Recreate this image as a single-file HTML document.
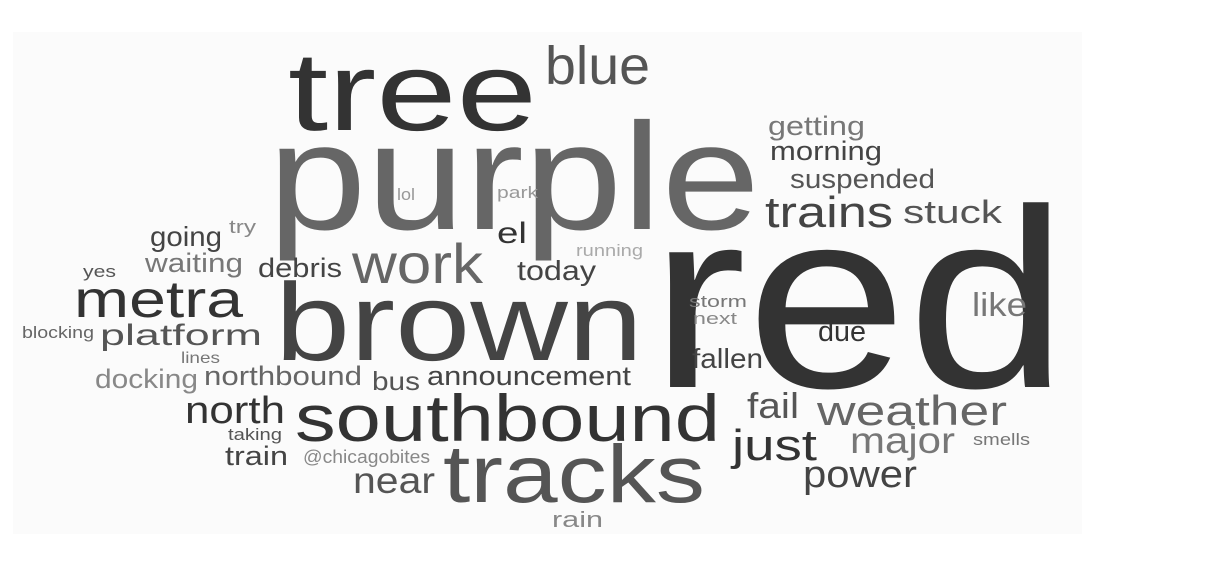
<!DOCTYPE html>
<html><head><meta charset="utf-8"><style>
html,body{margin:0;padding:0;background:#fff;}
svg{display:block;}
text{font-family:"Liberation Sans","DejaVu Sans",sans-serif;}
</style></head><body>
<svg width="1206" height="562" viewBox="0 0 1206 562">
<rect x="13" y="32" width="1069" height="502" fill="#fbfbfb"/>
<g>
<text x="650" y="387" font-size="255" fill="#333" textLength="418" lengthAdjust="spacingAndGlyphs">red</text>
<text x="268" y="229" font-size="152" fill="#666" textLength="492" lengthAdjust="spacingAndGlyphs">purple</text>
<text x="288" y="130" font-size="112" fill="#333" textLength="249" lengthAdjust="spacingAndGlyphs">tree</text>
<text x="545" y="84" font-size="54" fill="#555" textLength="105" lengthAdjust="spacingAndGlyphs">blue</text>
<text x="275" y="360" font-size="110" fill="#444" textLength="368" lengthAdjust="spacingAndGlyphs">brown</text>
<text x="295" y="441" font-size="66" fill="#333" textLength="425" lengthAdjust="spacingAndGlyphs">southbound</text>
<text x="443" y="502" font-size="82" fill="#555" textLength="262" lengthAdjust="spacingAndGlyphs">tracks</text>
<text x="352" y="283" font-size="56" fill="#666" textLength="131" lengthAdjust="spacingAndGlyphs">work</text>
<text x="74" y="317" font-size="52" fill="#333" textLength="169" lengthAdjust="spacingAndGlyphs">metra</text>
<text x="100" y="345" font-size="30" fill="#555" textLength="162" lengthAdjust="spacingAndGlyphs">platform</text>
<text x="22" y="338" font-size="17" fill="#666" textLength="72" lengthAdjust="spacingAndGlyphs">blocking</text>
<text x="150" y="246" font-size="28" fill="#444" textLength="72" lengthAdjust="spacingAndGlyphs">going</text>
<text x="229" y="233" font-size="18" fill="#888" textLength="27" lengthAdjust="spacingAndGlyphs">try</text>
<text x="145" y="272" font-size="27" fill="#777" textLength="98" lengthAdjust="spacingAndGlyphs">waiting</text>
<text x="83" y="277" font-size="17" fill="#555" textLength="33" lengthAdjust="spacingAndGlyphs">yes</text>
<text x="258" y="277" font-size="27" fill="#444" textLength="84" lengthAdjust="spacingAndGlyphs">debris</text>
<text x="181" y="363" font-size="16" fill="#777" textLength="39" lengthAdjust="spacingAndGlyphs">lines</text>
<text x="95" y="388" font-size="27" fill="#888" textLength="103" lengthAdjust="spacingAndGlyphs">docking</text>
<text x="204" y="385" font-size="27" fill="#666" textLength="158" lengthAdjust="spacingAndGlyphs">northbound</text>
<text x="372" y="390" font-size="26" fill="#555" textLength="48" lengthAdjust="spacingAndGlyphs">bus</text>
<text x="427" y="385" font-size="27" fill="#444" textLength="204" lengthAdjust="spacingAndGlyphs">announcement</text>
<text x="185" y="423" font-size="38" fill="#333" textLength="100" lengthAdjust="spacingAndGlyphs">north</text>
<text x="228" y="440" font-size="17" fill="#555" textLength="54" lengthAdjust="spacingAndGlyphs">taking</text>
<text x="225" y="465" font-size="27" fill="#444" textLength="63" lengthAdjust="spacingAndGlyphs">train</text>
<text x="303" y="463" font-size="18" fill="#888" textLength="127" lengthAdjust="spacingAndGlyphs">@chicagobites</text>
<text x="353" y="493" font-size="37" fill="#555" textLength="82" lengthAdjust="spacingAndGlyphs">near</text>
<text x="552" y="527" font-size="22" fill="#888" textLength="51" lengthAdjust="spacingAndGlyphs">rain</text>
<text x="397" y="200" font-size="17" fill="#999" textLength="18" lengthAdjust="spacingAndGlyphs">lol</text>
<text x="497" y="198" font-size="17" fill="#999" textLength="41" lengthAdjust="spacingAndGlyphs">park</text>
<text x="497" y="243" font-size="30" fill="#333" textLength="30" lengthAdjust="spacingAndGlyphs">el</text>
<text x="576" y="256" font-size="17" fill="#aaa" textLength="67" lengthAdjust="spacingAndGlyphs">running</text>
<text x="517" y="280" font-size="28" fill="#444" textLength="79" lengthAdjust="spacingAndGlyphs">today</text>
<text x="768" y="135" font-size="27" fill="#777" textLength="97" lengthAdjust="spacingAndGlyphs">getting</text>
<text x="770" y="160" font-size="27" fill="#444" textLength="112" lengthAdjust="spacingAndGlyphs">morning</text>
<text x="790" y="188" font-size="27" fill="#555" textLength="145" lengthAdjust="spacingAndGlyphs">suspended</text>
<text x="765" y="227" font-size="44" fill="#444" textLength="128" lengthAdjust="spacingAndGlyphs">trains</text>
<text x="903" y="223" font-size="32" fill="#555" textLength="99" lengthAdjust="spacingAndGlyphs">stuck</text>
<text x="689" y="307" font-size="17" fill="#777" textLength="58" lengthAdjust="spacingAndGlyphs">storm</text>
<text x="693" y="324" font-size="17" fill="#888" textLength="44" lengthAdjust="spacingAndGlyphs">next</text>
<text x="972" y="316" font-size="33" fill="#777" textLength="55" lengthAdjust="spacingAndGlyphs">like</text>
<text x="818" y="341" font-size="29" fill="#333" textLength="48" lengthAdjust="spacingAndGlyphs">due</text>
<text x="692" y="368" font-size="28" fill="#444" textLength="71" lengthAdjust="spacingAndGlyphs">fallen</text>
<text x="747" y="418" font-size="36" fill="#555" textLength="52" lengthAdjust="spacingAndGlyphs">fail</text>
<text x="817" y="425" font-size="42" fill="#666" textLength="190" lengthAdjust="spacingAndGlyphs">weather</text>
<text x="732" y="460" font-size="44" fill="#333" textLength="85" lengthAdjust="spacingAndGlyphs">just</text>
<text x="850" y="453" font-size="37" fill="#777" textLength="105" lengthAdjust="spacingAndGlyphs">major</text>
<text x="973" y="445" font-size="17" fill="#777" textLength="57" lengthAdjust="spacingAndGlyphs">smells</text>
<text x="803" y="487" font-size="38" fill="#444" textLength="114" lengthAdjust="spacingAndGlyphs">power</text>
</g>
</svg>
</body></html>
